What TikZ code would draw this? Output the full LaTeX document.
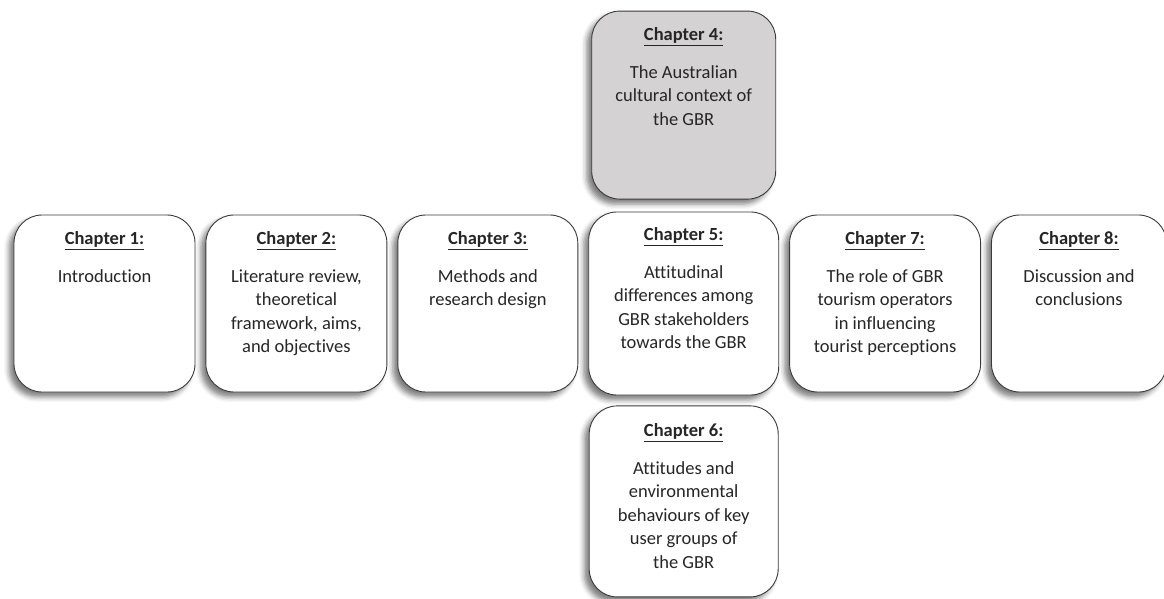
\documentclass[tikz,border=0pt]{standalone}
\usepackage{fontspec}
\setmainfont[Ligatures={NoCommon}]{Carlito}
\usepackage{xcolor}
\definecolor{chapgrey}{HTML}{D4D2D3}
\definecolor{chapline}{HTML}{3A3A3A}
\definecolor{chaptext}{HTML}{262626}
\usetikzlibrary{positioning,shadows.blur}
\newcommand{\chaphead}[2]{\underline{\textbf{Chapter #1:}}\\[14pt]#2}

\begin{document}
\begin{tikzpicture}[
x=1pt,y=1pt,
node distance=10pt,
chapbox/.style={draw=chapline,line width=0.9pt,rounded corners=28pt,
fill=white,minimum height=177pt,inner sep=0pt,
blur shadow={shadow xshift=-5pt,shadow yshift=-5pt,
shadow blur radius=5pt,shadow opacity=50}},
chaptxt/.style={align=center,inner sep=0pt,text=chaptext,
font=\fontsize{18.5}{23.5}\selectfont}
]
\useasboundingbox (0,0) rectangle (1164,598);
% middle row
\node[chapbox,minimum width=181pt] (c1) at (104.5,294.5) {};
\node[chapbox,minimum width=181pt,right=of c1] (c2) {};
\node[chapbox,minimum width=180pt,right=of c2] (c3) {};
\node[chapbox,minimum width=190pt,minimum height=183pt,right=of c3] (c5) {};
\node[chapbox,minimum width=191pt,right=of c5] (c7) {};
\node[chapbox,minimum width=175pt,right=of c7] (c8) {};
% column through chapter 5
\node[chapbox,fill=chapgrey,minimum width=184pt,minimum height=188pt,
above=12pt of c5] (c4) {};
\node[chapbox,minimum width=189pt,minimum height=191pt,
below=of c5] (c6) {};

\node[chaptxt,below=17pt of c1.north] (t1) {\chaphead{1}{Introduction}};
\node[chaptxt,below=17pt of c2.north] (t2) {\chaphead{2}{Literature review,\\
theoretical\\ framework, aims,\\ and objectives}};
\node[chaptxt,below=17pt of c3.north] (t3) {\chaphead{3}{Methods and\\
research design}};
\node[chaptxt,below=16pt of c5.north] (t5) {\chaphead{5}{Attitudinal\\
differences among\\ GBR stakeholders\\ towards the GBR}};
\node[chaptxt,below=17pt of c7.north] (t7) {\chaphead{7}{The role of GBR\\
tourism operators\\ in influencing\\ tourist perceptions}};
\node[chaptxt,below=17pt of c8.north] (t8) {\chaphead{8}{Discussion and\\
conclusions}};
\node[chaptxt,below=17pt of c4.north] (t4) {\chaphead{4}{The Australian\\
cultural context of\\ the GBR}};
\node[chaptxt,below=18pt of c6.north] (t6) {\chaphead{6}{Attitudes and\\
environmental\\ behaviours of key\\ user groups of\\ the GBR}};
\end{tikzpicture}
\end{document}
